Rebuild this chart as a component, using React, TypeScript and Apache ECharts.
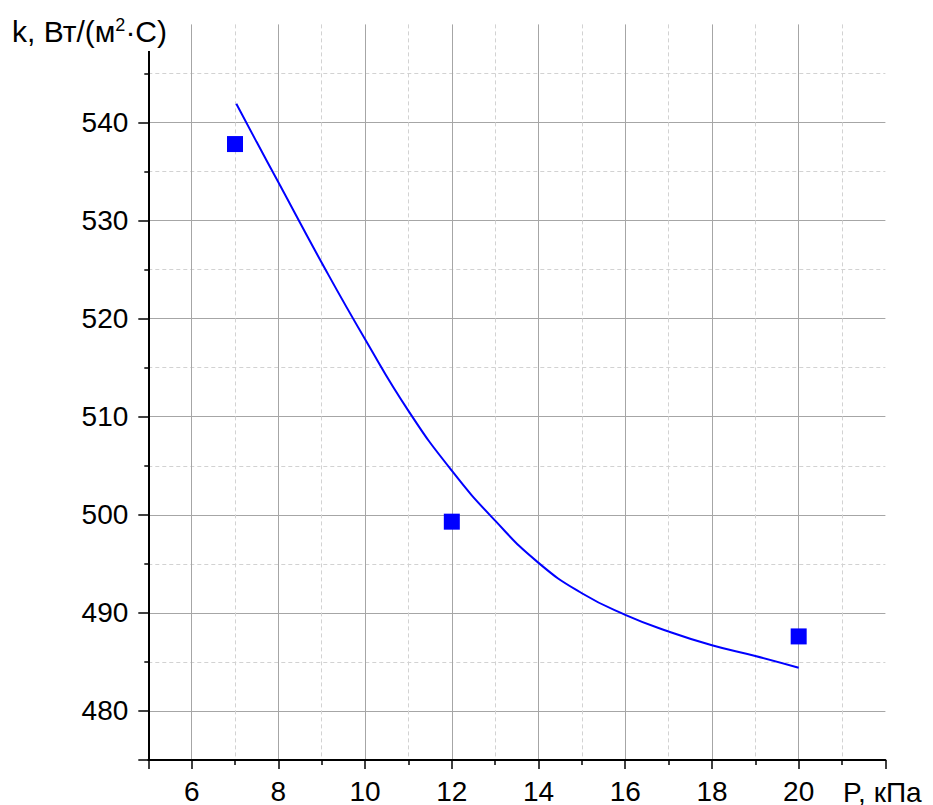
import React, { useEffect, useRef } from "react";
import * as echarts from "echarts";

// measured points (P, кПа ; k, Вт/(м²·С))
const pointP = [7, 12, 20];
const pointK = [537.8, 499.3, 487.6];

// fitted curve
const curveP = [7.03, 7.5, 8, 9, 10, 11, 12, 13, 14, 15, 16, 17, 18, 19, 20];
const curveK = [541.9, 538.0, 533.9, 525.7, 517.9, 510.6, 504.5, 499.4, 495.1, 492.0, 489.8, 488.1, 486.7, 485.6, 484.4];

const xRange = [5, 22];
const yRange = [475, 550];

const xTitle = "P, кПа";
const yTitleRich = "k, Вт/(м{s|2}·С)";

const FONT = "'Liberation Sans', Arial, sans-serif";

export default function App() {
  const ref = useRef<HTMLDivElement>(null);
  useEffect(() => {
    if (!ref.current) return;
    const chart = echarts.init(ref.current, undefined, { renderer: "svg" });
    const axisCommon = {
      axisLine: { show: true, onZero: false, lineStyle: { color: "#000", width: 2 } },
      axisLabel: { color: "#000", fontSize: 28, fontFamily: FONT, showMinLabel: false, showMaxLabel: false },
      splitLine: { show: true, showMinLine: false, showMaxLine: false, lineStyle: { color: "#a6a6a6", width: 1 } },
      minorTick: { show: true, splitNumber: 2, length: 5, lineStyle: { color: "#000", width: 1.5 } },
      minorSplitLine: { show: true, lineStyle: { color: "#d2d2d2", width: 1, type: [4, 3] } },
    };
    chart.setOption({
      animation: false,
      backgroundColor: "#fff",
      grid: { left: 148.3, right: 47.6, top: 24.4, bottom: 43.6, containLabel: false },
      xAxis: {
        type: "value",
        min: xRange[0],
        max: xRange[1],
        splitNumber: 8,
        ...axisCommon,
        axisTick: { show: true, length: 9, lineStyle: { color: "#000", width: 1.5 } },
        axisLabel: { ...axisCommon.axisLabel, margin: 17 },
      },
      yAxis: {
        type: "value",
        min: yRange[0],
        max: yRange[1],
        splitNumber: 7,
        ...axisCommon,
        axisTick: { show: true, length: 10, lineStyle: { color: "#000", width: 1.5 } },
        minorTick: { ...axisCommon.minorTick, length: 4 },
        axisLabel: { ...axisCommon.axisLabel, margin: 20 },
      },
      series: [
        {
          type: "line",
          data: curveP.map((p, i) => [p, curveK[i]]),
          smooth: 0.5,
          symbol: "none",
          lineStyle: { color: "#0000ff", width: 2 },
          z: 3,
        },
        {
          type: "scatter",
          data: pointP.map((p, i) => [p, pointK[i]]),
          symbol: "rect",
          symbolSize: 16,
          itemStyle: { color: "#0000ff", opacity: 1 },
          z: 4,
        },
      ],
      graphic: [
        {
          type: "rect",
          z: 100,
          shape: { x: 128, y: 0, width: 24, height: 51 },
          style: { fill: "#fff" },
        },
        {
          type: "text",
          z: 101,
          style: {
            text: yTitleRich,
            x: 12,
            y: 16,
            fill: "#000",
            font: `30px ${FONT}`,
            lineHeight: 30,
            textAlign: "left",
            textVerticalAlign: "top",
            rich: {
              s: { fontSize: 18, fontFamily: FONT, lineHeight: 18, verticalAlign: "top", fill: "#000" },
            },
          },
        },
        {
          type: "text",
          z: 101,
          style: {
            text: xTitle,
            x: 843,
            y: 792.5,
            fill: "#000",
            font: `28px ${FONT}`,
            textAlign: "left",
            textVerticalAlign: "middle",
          },
        },
      ],
    });
    return () => chart.dispose();
  }, []);
  return (
    <div
      ref={ref}
      style={{ position: "fixed", left: 0, top: 0, width: 933, height: 805, background: "#fff" }}
    />
  );
}
